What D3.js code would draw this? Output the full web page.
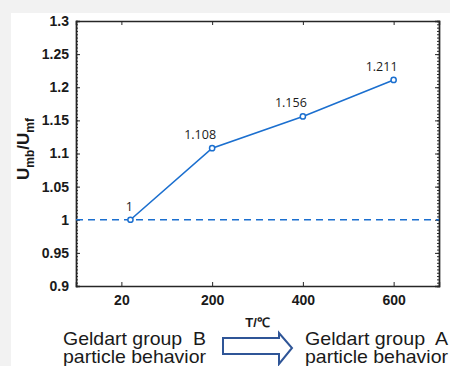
<!DOCTYPE html>
<html>
<head>
<meta charset="utf-8">
<script src="https://cdn.jsdelivr.net/npm/d3@7"></script>
<style>
  html, body { margin: 0; padding: 0; background: #f2f2f2; }
  svg { display: block; }
  text { font-family: "Liberation Sans", Arial, sans-serif; fill: #1a1a1a; }
</style>
</head>
<body>
<svg id="chart" width="450" height="366"></svg>
<script>
(function () {
  // temperature categories and measured ratio
  const tempLabels = ['20', '200', '400', '600'];
  const tickPos = [1, 2, 3, 4];
  const pointPos = [1.1, 2, 3, 4];
  const ratioValues = [1, 1.108, 1.156, 1.211];
  const yTicks = [0.9, 0.95, 1, 1.05, 1.1, 1.15, 1.2, 1.25, 1.3];
  const refValue = 1;

  const svg = d3.select('#chart');
  const blue = '#1b6fcf';
  const axisColor = '#262626';

  // white panel
  svg.append('rect')
    .attr('x', 11).attr('y', 13)
    .attr('width', 450).attr('height', 366)
    .attr('fill', '#ffffff');

  const plotLeft = 76, plotRight = 439, plotTop = 21, plotBottom = 286;

  const x = d3.scaleLinear().domain([0.5, 4.5]).range([plotLeft, plotRight]);
  const y = d3.scaleLinear().domain([0.9, 1.3]).range([plotBottom, plotTop]);
  const minorTicks = d3.range(0.9, 1.3001, 0.005);

  const g = svg.append('g');

  // axes: labelled left/bottom, mirrored ticks right/top
  const yLeft = g.append('g')
    .attr('transform', 'translate(' + plotLeft + ',0)')
    .call(d3.axisLeft(y).tickValues(yTicks).tickSize(-4).tickPadding(7).tickFormat(d3.format('')));
  const yLeftMinor = g.append('g')
    .attr('transform', 'translate(' + plotLeft + ',0)')
    .call(d3.axisLeft(y).tickValues(minorTicks).tickSize(-2).tickFormat(''));
  const yRight = g.append('g')
    .attr('transform', 'translate(' + plotRight + ',0)')
    .call(d3.axisRight(y).tickValues(yTicks).tickSize(-4).tickFormat(''));
  const yRightMinor = g.append('g')
    .attr('transform', 'translate(' + plotRight + ',0)')
    .call(d3.axisRight(y).tickValues(minorTicks).tickSize(-2).tickFormat(''));
  const xBottom = g.append('g')
    .attr('transform', 'translate(0,' + plotBottom + ')')
    .call(d3.axisBottom(x).tickValues(tickPos).tickSize(-4).tickPadding(9)
      .tickFormat(function (d, i) { return tempLabels[i]; }));
  const xTop = g.append('g')
    .attr('transform', 'translate(0,' + plotTop + ')')
    .call(d3.axisTop(x).tickValues(tickPos).tickSize(-4).tickFormat(''));

  [yLeft, yLeftMinor, yRight, yRightMinor, xBottom, xTop].forEach(function (ax) {
    ax.select('.domain').attr('stroke', axisColor).attr('stroke-width', 1.4);
    ax.selectAll('.tick line').attr('stroke', axisColor).attr('stroke-width', 1);
    ax.selectAll('.tick text')
      .attr('fill', axisColor)
      .style('font-size', '14px')
      .style('font-weight', 'bold');
  });

  // reference dashed line
  g.append('line')
    .attr('x1', plotLeft).attr('x2', plotRight)
    .attr('y1', y(refValue)).attr('y2', y(refValue))
    .attr('stroke', blue)
    .attr('stroke-width', 1.7)
    .attr('stroke-dasharray', '7,5');

  const points = ratioValues.map(function (v, i) { return [pointPos[i], v]; });

  g.append('path')
    .datum(points)
    .attr('fill', 'none')
    .attr('stroke', blue)
    .attr('stroke-width', 1.6)
    .attr('d', d3.line().x(function (d) { return x(d[0]); }).y(function (d) { return y(d[1]); }));

  g.selectAll('circle.pt')
    .data(points)
    .enter()
    .append('circle')
    .attr('class', 'pt')
    .attr('cx', function (d) { return x(d[0]); })
    .attr('cy', function (d) { return y(d[1]); })
    .attr('r', 2.6)
    .attr('fill', '#ffffff')
    .attr('stroke', blue)
    .attr('stroke-width', 1.5);

  g.selectAll('text.val')
    .data(points)
    .enter()
    .append('text')
    .attr('class', 'val')
    .attr('x', function (d, i) { return x(d[0]) + (i === 0 ? -1 : -12); })
    .attr('y', function (d) { return y(d[1]) - 9; })
    .attr('text-anchor', 'middle')
    .style('font-family', '"Open Sans", sans-serif')
    .style('font-size', '12.5px')
    .text(function (d) { return d3.format('')(d[1]); });

  // y axis title
  const yTitle = g.append('text')
    .attr('transform', 'translate(29,149) rotate(-90)')
    .attr('text-anchor', 'middle')
    .style('font-size', '17px')
    .style('font-weight', 'bold');
  yTitle.append('tspan').text('U');
  yTitle.append('tspan').attr('dy', 5).style('font-size', '12px').text('mb');
  yTitle.append('tspan').attr('dy', -5).text('/U');
  yTitle.append('tspan').attr('dy', 5).style('font-size', '12px').text('mf');

  // x axis title
  g.append('text')
    .attr('x', (plotLeft + plotRight) / 2)
    .attr('y', 327)
    .attr('text-anchor', 'middle')
    .style('font-size', '13px')
    .style('font-weight', 'bold')
    .text('T/℃');

  // group notes under the chart
  function note(x0, lines) {
    const t = g.append('text')
      .attr('x', x0)
      .attr('y', 345)
      .style('font-size', '18.5px')
      .style('white-space', 'pre');
    lines.forEach(function (line, i) {
      t.append('tspan')
        .attr('x', x0)
        .attr('dy', i === 0 ? 0 : 17.5)
        .attr('textLength', 143)
        .attr('lengthAdjust', 'spacingAndGlyphs')
        .text(line);
    });
  }
  note(63, ['Geldart group  B', 'particle behavior']);
  note(305, ['Geldart group  A', 'particle behavior']);

  // hollow block arrow
  const arrow = d3.path();
  arrow.moveTo(223, 338);
  arrow.lineTo(279, 338);
  arrow.lineTo(279, 333);
  arrow.lineTo(292, 348);
  arrow.lineTo(279, 364);
  arrow.lineTo(279, 354);
  arrow.lineTo(223, 354);
  arrow.closePath();
  g.append('path')
    .attr('d', arrow.toString())
    .attr('fill', 'none')
    .attr('stroke', '#2f5597')
    .attr('stroke-width', 2);
})();
</script>
</body>
</html>
